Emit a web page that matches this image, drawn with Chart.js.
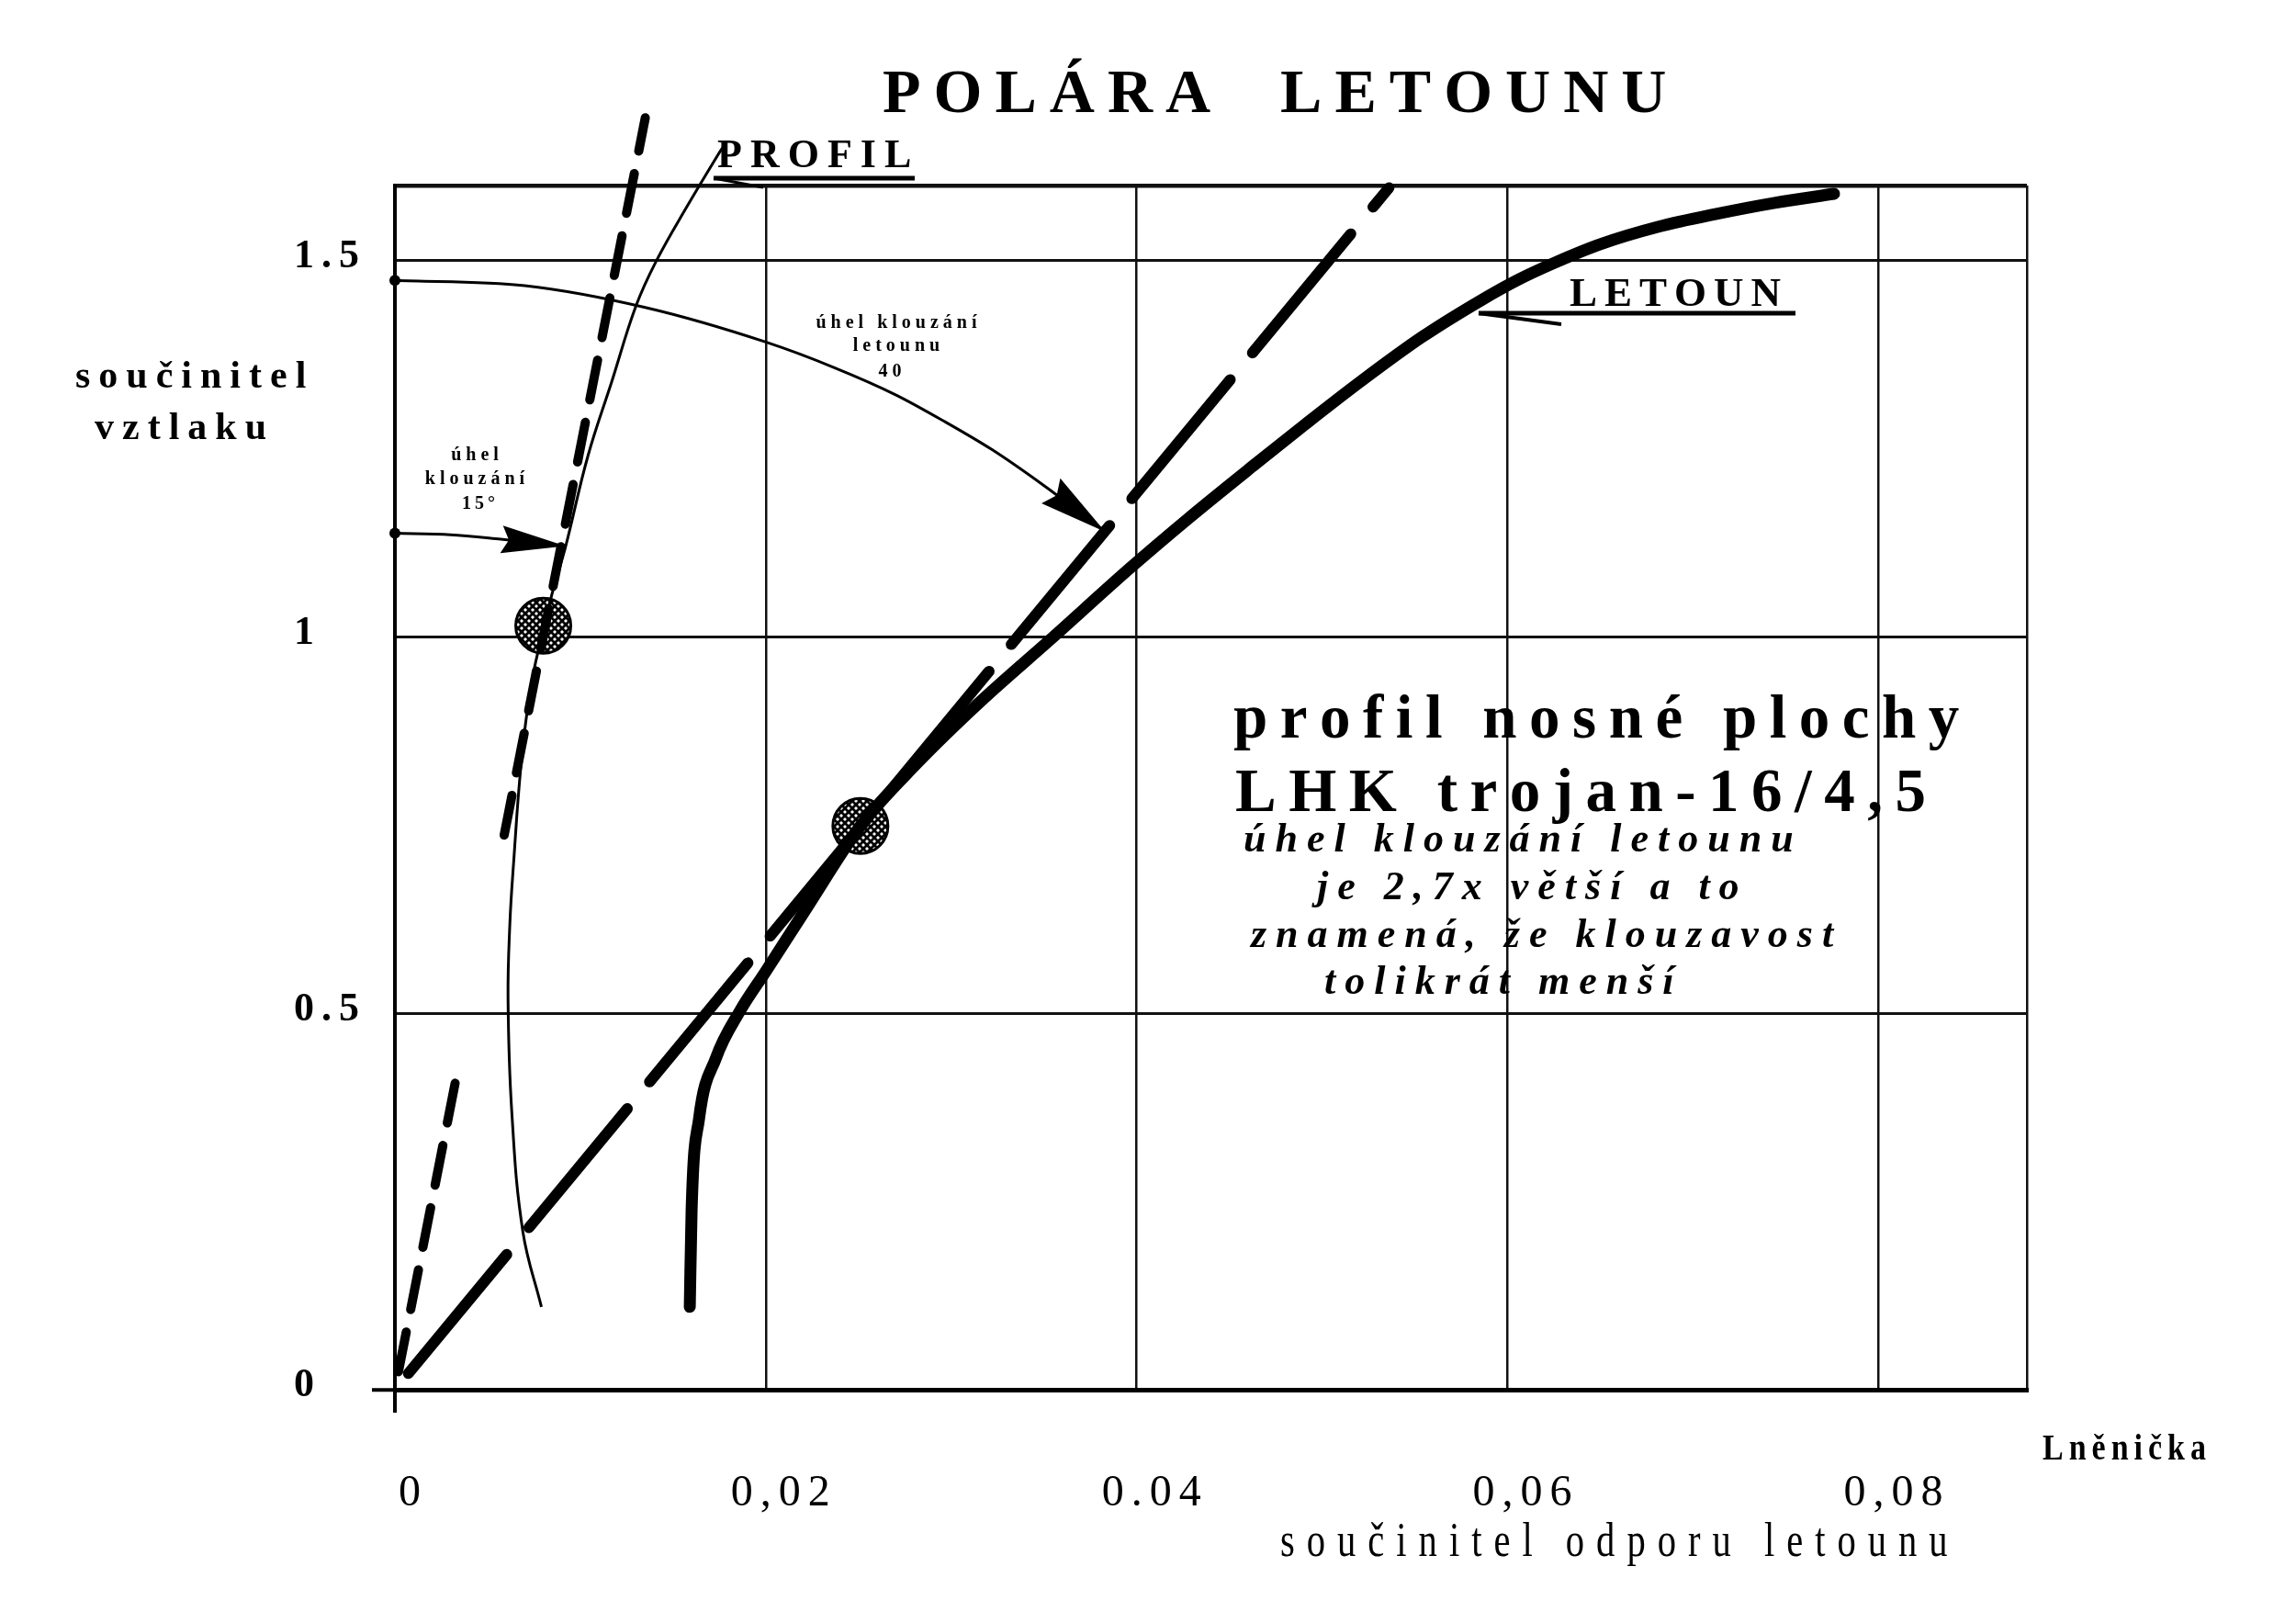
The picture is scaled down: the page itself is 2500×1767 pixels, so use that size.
<!DOCTYPE html>
<html>
<head>
<meta charset="utf-8">
<script src="https://cdn.jsdelivr.net/npm/chart.js@4.4.1/dist/chart.umd.min.js"></script>
<style>
html,body{margin:0;padding:0;background:#fff;}
#wrap{width:2500px;height:1767px;position:relative;}
</style>
</head>
<body>
<div id="wrap"><canvas id="c" width="2500" height="1767"></canvas></div>
<script>
// ---------------- DATA ----------------
const xTickValues = [0, 0.02, 0.04, 0.06, 0.08];
const xTickLabels = ['0', '0,02', '0.04', '0,06', '0,08'];
const yTickValues = [0, 0.5, 1, 1.5];
const yTickLabels = ['0', '0.5', '1', '1.5'];

// PROFIL polar (thin curve): drag coefficient / lift coefficient
const profilCd = [0.0079, 0.0069, 0.0063, 0.0061, 0.0062, 0.0064, 0.0068, 0.0073, 0.0079, 0.0085, 0.0092, 0.0104, 0.0117, 0.0130, 0.0141, 0.0157, 0.0174, 0.0178];
const profilCl = [0.11, 0.21, 0.37, 0.52, 0.62, 0.70, 0.83, 0.93, 1.00, 1.06, 1.12, 1.24, 1.34, 1.44, 1.50, 1.57, 1.64, 1.655];

// LETOUN polar (thick curve)
const letounCd = [0.0159, 0.0160, 0.0164, 0.0173, 0.0186, 0.0200, 0.0222, 0.0251, 0.0281, 0.0316, 0.0354, 0.0397, 0.0428, 0.0464, 0.0491, 0.0522, 0.0554, 0.0586, 0.0605, 0.0625, 0.0650, 0.0681, 0.0712, 0.0744, 0.0776];
const letounCl = [0.11, 0.24, 0.36, 0.44, 0.503, 0.556, 0.640, 0.749, 0.831, 0.915, 0.998, 1.093, 1.158, 1.230, 1.283, 1.342, 1.399, 1.448, 1.474, 1.497, 1.522, 1.545, 1.562, 1.577, 1.589];

// glide tangent of the aircraft (from origin)
const tangentLetounCd = [0, 0.0536];
const tangentLetounCl = [0, 1.597];

// glide tangent of the profile (from origin, interrupted)
const tangentProfilCd = [0, 0.0033, null, 0.0057, 0.0135];
const tangentProfilCl = [0, 0.414, null, 0.713, 1.69];

// optimum points (hatched circles)
const optimumCd = [0.0080, 0.0251];
const optimumCl = [1.015, 0.749];

// arrow "úhel klouzání letounu 40"
const arcLetounCd = [0, 0.0070, 0.0135, 0.0200, 0.0237, 0.0270, 0.0296, 0.0322, 0.0349, 0.0383];
const arcLetounCl = [1.474, 1.467, 1.438, 1.392, 1.358, 1.322, 1.287, 1.249, 1.203, 1.140];

// arrow "úhel klouzání 15°"
const arcProfilCd = [0, 0.0030, 0.0057, 0.0092];
const arcProfilCl = [1.138, 1.136, 1.130, 1.121];

// ---------------- HELPERS ----------------
const SERIF = '"Liberation Serif", "DejaVu Serif", serif';
function pts(xs, ys) {
  return xs.map((x, i) => (x === null ? {x: null, y: null} : {x: x, y: ys[i]}));
}
function hatchPattern() {
  const c = document.createElement('canvas');
  c.width = 8; c.height = 8;
  const g = c.getContext('2d');
  g.fillStyle = '#fff'; g.fillRect(0, 0, 8, 8);
  g.strokeStyle = '#000'; g.lineWidth = 2.8;
  g.beginPath();
  g.moveTo(-1, -1); g.lineTo(9, 9);
  g.moveTo(9, -1); g.lineTo(-1, 9);
  g.stroke();
  return g.createPattern(c, 'repeat');
}
function spacedText(ctx, text, x, y, spacing, align, sx) {
  sx = sx || 1;
  const chars = Array.from(text);
  const widths = chars.map(ch => ctx.measureText(ch).width * sx);
  const total = widths.reduce((a, b) => a + b, 0) + spacing * (chars.length - 1);
  let cx = align === 'center' ? x - total / 2 : (align === 'right' ? x - total : x);
  ctx.textAlign = 'left';
  chars.forEach((ch, i) => {
    ctx.save();
    ctx.translate(cx, y);
    ctx.scale(sx, 1);
    ctx.fillText(ch, 0, 0);
    ctx.restore();
    cx += widths[i] + spacing;
  });
}

// ---------------- PLUGINS ----------------
const paperPlugin = {
  id: 'paper',
  beforeDraw(chart) {
    const ctx = chart.ctx;
    ctx.save();
    ctx.fillStyle = '#fff';
    ctx.fillRect(0, 0, chart.width, chart.height);
    ctx.restore();
    try { ctx.letterSpacing = '8px'; } catch (e) {}
  },
  beforeDatasetsDraw(chart) {
    try { chart.ctx.letterSpacing = '0px'; } catch (e) {}
  }
};

const arrowPlugin = {
  id: 'arrows',
  afterDatasetsDraw(chart) {
    const ctx = chart.ctx;
    const xs = chart.scales.x, ys = chart.scales.y;
    const heads = [
      {cd: arcLetounCd, cl: arcLetounCl, len: 74, half: 17},
      {cd: arcProfilCd, cl: arcProfilCl, len: 70, half: 15}
    ];
    ctx.save();
    ctx.fillStyle = '#000';
    heads.forEach(h => {
      const n = h.cd.length;
      const tx = xs.getPixelForValue(h.cd[n - 1]), ty = ys.getPixelForValue(h.cl[n - 1]);
      const px = xs.getPixelForValue(h.cd[n - 2]), py = ys.getPixelForValue(h.cl[n - 2]);
      let dx = tx - px, dy = ty - py;
      const d = Math.hypot(dx, dy); dx /= d; dy /= d;
      const bx = tx - dx * h.len, by = ty - dy * h.len;
      ctx.beginPath();
      ctx.moveTo(tx, ty);
      ctx.lineTo(bx - dy * h.half, by + dx * h.half);
      ctx.lineTo(bx + dx * 8, by + dy * 8);
      ctx.lineTo(bx + dy * h.half, by - dx * h.half);
      ctx.closePath();
      ctx.fill();
    });
    ctx.restore();
  }
};

const textPlugin = {
  id: 'texts',
  afterDraw(chart) {
    const ctx = chart.ctx;
    ctx.save();
    try { ctx.letterSpacing = '0px'; } catch (e) {}
    ctx.fillStyle = '#000';
    ctx.textBaseline = 'alphabetic';
    const items = [
      {t: 'POLÁRA  LETOUNU', x: 961, y: 122, f: 'bold 68px ' + SERIF, s: 14, a: 'left'},
      {t: 'PROFIL', x: 781, y: 182, f: 'bold 44px ' + SERIF, s: 9, a: 'left'},
      {t: 'LETOUN', x: 1709, y: 333, f: 'bold 45px ' + SERIF, s: 8, a: 'left'},
      {t: 'součinitel', x: 82, y: 422, f: 'bold 42px ' + SERIF, s: 9, a: 'left'},
      {t: 'vztlaku', x: 103, y: 478, f: 'bold 42px ' + SERIF, s: 9, a: 'left'},
      {t: 'součinitel odporu letounu', x: 1394, y: 1694, f: '52px ' + SERIF, s: 13, a: 'left', sx: 0.78},
      {t: 'Lněnička', x: 2224, y: 1589, f: 'bold 40px ' + SERIF, s: 6, a: 'left', sx: 0.85},
      {t: 'profil nosné plochy', x: 1343, y: 803, f: 'bold 67px ' + SERIF, s: 13.5, a: 'left'},
      {t: 'LHK trojan-16/4,5', x: 1345, y: 883, f: 'bold 67px ' + SERIF, s: 13.5, a: 'left'},
      {t: 'úhel klouzání letounu', x: 1354, y: 927, f: 'italic bold 44px ' + SERIF, s: 10, a: 'left'},
      {t: 'je 2,7x větší a to', x: 1434, y: 979, f: 'italic bold 44px ' + SERIF, s: 10, a: 'left'},
      {t: 'znamená, že klouzavost', x: 1362, y: 1031, f: 'italic bold 44px ' + SERIF, s: 10, a: 'left'},
      {t: 'tolikrát menší', x: 1442, y: 1082, f: 'italic bold 44px ' + SERIF, s: 10, a: 'left'},
      {t: 'úhel klouzání', x: 976, y: 357, f: 'bold 20px ' + SERIF, s: 5, a: 'center'},
      {t: 'letounu', x: 976, y: 382, f: 'bold 20px ' + SERIF, s: 5, a: 'center'},
      {t: '40', x: 969, y: 410, f: 'bold 20px ' + SERIF, s: 5, a: 'center'},
      {t: 'úhel', x: 517, y: 501, f: 'bold 20px ' + SERIF, s: 5, a: 'center'},
      {t: 'klouzání', x: 517, y: 527, f: 'bold 20px ' + SERIF, s: 5, a: 'center'},
      {t: '15°', x: 521, y: 554, f: 'bold 20px ' + SERIF, s: 4, a: 'center'}
    ];
    items.forEach(it => { ctx.font = it.f; spacedText(ctx, it.t, it.x, it.y, it.s, it.a, it.sx); });

    // label pointers (underline + barb)
    ctx.strokeStyle = '#000';
    ctx.lineCap = 'butt';
    const seg = (x1, y1, x2, y2, w) => { ctx.lineWidth = w; ctx.beginPath(); ctx.moveTo(x1, y1); ctx.lineTo(x2, y2); ctx.stroke(); };
    seg(777, 194, 996, 194, 5);
    seg(777, 194, 831, 204, 3);
    seg(1610, 341, 1955, 341, 5);
    seg(1610, 341, 1700, 353, 4);
    ctx.restore();
  }
};

// ---------------- CHART ----------------
const hatch = hatchPattern();

const datasets = [
  {
    label: 'úhel klouzání letounu',
    data: pts(arcLetounCd, arcLetounCl),
    showLine: true, borderColor: '#000', backgroundColor: '#000', borderWidth: 3,
    pointRadius: c => (c.dataIndex === 0 ? 6 : 0), pointBorderWidth: 0,
    cubicInterpolationMode: 'monotone', clip: false
  },
  {
    label: 'úhel klouzání 15°',
    data: pts(arcProfilCd, arcProfilCl),
    showLine: true, borderColor: '#000', backgroundColor: '#000', borderWidth: 3,
    pointRadius: c => (c.dataIndex === 0 ? 6 : 0), pointBorderWidth: 0,
    cubicInterpolationMode: 'monotone', clip: false
  },
  {
    label: 'LETOUN',
    data: pts(letounCd, letounCl),
    showLine: true, borderColor: '#000', borderWidth: 13, pointRadius: 0,
    cubicInterpolationMode: 'monotone', borderCapStyle: 'round', borderJoinStyle: 'round', clip: false
  },
  {
    label: 'tečna letoun',
    data: pts(tangentLetounCd, tangentLetounCl),
    showLine: true, borderColor: '#000', borderWidth: 12, pointRadius: 0,
    borderDash: [168, 38], borderDashOffset: 183, borderCapStyle: 'round', clip: false
  },
  {
    label: 'tečna profil',
    data: pts(tangentProfilCd, tangentProfilCl),
    showLine: true, spanGaps: false, borderColor: '#000', borderWidth: 10, pointRadius: 0,
    borderDash: [44, 25], borderDashOffset: 49, borderCapStyle: 'round', clip: false
  },
  {
    label: 'PROFIL',
    data: pts(profilCd, profilCl),
    showLine: true, borderColor: '#000', borderWidth: 3, pointRadius: 0,
    tension: 0.4, clip: false
  },
  {
    label: 'optimum',
    data: pts(optimumCd, optimumCl),
    showLine: false, pointStyle: 'circle', pointRadius: 30,
    backgroundColor: hatch, borderColor: '#000', borderWidth: 3, clip: false
  }
];

new Chart(document.getElementById('c'), {
  type: 'scatter',
  data: {datasets: datasets},
  options: {
    responsive: false,
    animation: false,
    devicePixelRatio: 1,
    events: [],
    layout: {padding: {top: 202, right: 293, left: 320, bottom: 0}},
    plugins: {legend: {display: false}, tooltip: {enabled: false}},
    scales: {
      x: {
        type: 'linear', min: 0, max: 0.088,
        afterFit(s) { s.height = 254; },
        afterBuildTicks(s) { s.ticks = xTickValues.concat([s.max]).map(v => ({value: v})); },
        ticks: {
          autoSkip: false, maxRotation: 0, minRotation: 0,
          padding: 60, labelOffset: 20, color: '#000',
          font: {family: SERIF, size: 48},
          callback: (v, i) => (i < xTickLabels.length ? xTickLabels[i] : '')
        },
        grid: {
          color: '#111',
          lineWidth: c => (c.tick && c.tick.value === 0 ? 4 : 2.5),
          drawTicks: true, tickLength: 25, tickWidth: 4,
          tickColor: c => (c.tick && c.tick.value === 0 ? '#000' : 'rgba(0,0,0,0)')
        },
        border: {display: true, color: '#000', width: 5}
      },
      y: {
        type: 'linear', min: 0, max: 1.6,
        afterFit(s) { s.width = 110; },
        afterBuildTicks(s) { s.ticks = yTickValues.concat([s.max]).map(v => ({value: v})); },
        ticks: {
          autoSkip: false, padding: 14, labelOffset: -4, color: '#000', crossAlign: 'far',
          font: {family: SERIF, size: 44, weight: 'bold'},
          callback: (v, i) => (i < yTickLabels.length ? yTickLabels[i] : '')
        },
        grid: {
          color: '#111',
          lineWidth: c => (c.tick && (c.tick.value === 0 || c.tick.value === 1.6) ? 4.5 : 3),
          drawTicks: true, tickLength: 25, tickWidth: 4,
          tickColor: c => (c.tick && c.tick.value === 0 ? '#000' : 'rgba(0,0,0,0)')
        },
        border: {display: true, color: '#000', width: 4}
      }
    }
  },
  plugins: [paperPlugin, arrowPlugin, textPlugin]
});
</script>
</body>
</html>
